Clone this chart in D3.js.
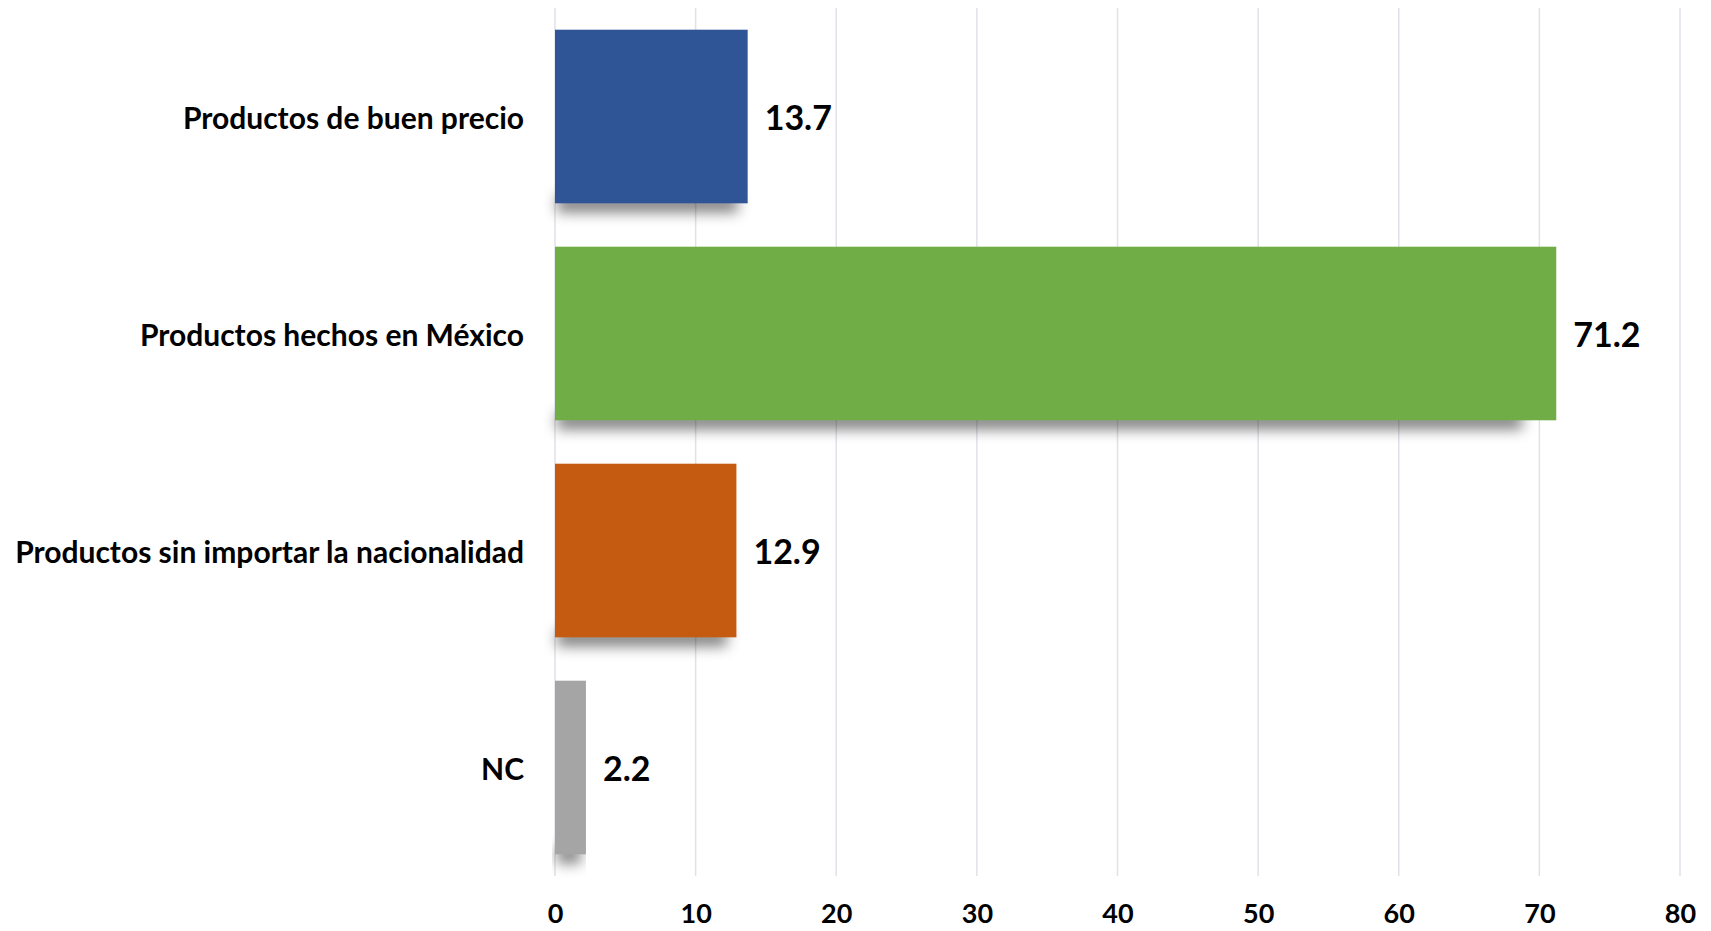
<!DOCTYPE html>
<head>
<meta charset="utf-8">
<style type="text/css">
	body { margin: 0; background: #fff; }
	text { font-family: Lato, "Open Sans", sans-serif; font-weight: bold; fill: #000; }
	.grid line { stroke: #dfe2e8; stroke-width: 1.5; }
</style>
</head>
<script src="https://d3js.org/d3.v7.min.js"></script>
<body>
	<svg width="1711" height="931"></svg>
	<script>
	var categories = ["Productos de buen precio", "Productos hechos en México", "Productos sin importar la nacionalidad", "NC"];
	var values = [13.7, 71.2, 12.9, 2.2];
	var colors = ["#2f5597", "#70ad47", "#c55a11", "#a5a5a5"];
	var ticks = [0, 10, 20, 30, 40, 50, 60, 70, 80];

	var svg = d3.select("svg");

	var x = d3.scaleLinear()
		.domain([0, 80])
		.range([555, 1680]);

	var y = d3.scaleBand()
		.domain(categories)
		.range([8, 876])
		.paddingInner(0.2)
		.paddingOuter(0.1);

	var defs = svg.append("defs");
	defs.append("filter")
		.attr("id", "blur")
		.attr("x", "-20%").attr("y", "-100%")
		.attr("width", "140%").attr("height", "300%")
		.append("feGaussianBlur")
		.attr("stdDeviation", 7);

	// gridlines
	svg.append("g")
		.attr("class", "grid")
		.selectAll("line")
		.data(ticks)
		.enter().append("line")
		.attr("x1", function(d) { return x(d); })
		.attr("x2", function(d) { return x(d); })
		.attr("y1", 8)
		.attr("y2", 876);

	var rows = categories.map(function(c, i) { return {cat: c, val: values[i], color: colors[i]}; });

	// shadows under the bars
	svg.append("g")
		.selectAll("rect")
		.data(rows)
		.enter().append("rect")
		.attr("x", x(0) + 2)
		.attr("y", function(d) { return y(d.cat) + y.bandwidth() - 8; })
		.attr("width", function(d) { return Math.max(4, (x(d.val) - x(0)) * 0.97 - 6); })
		.attr("height", 17)
		.attr("fill", "#000")
		.attr("opacity", 0.5)
		.attr("filter", "url(#blur)");

	svg.append("g")
		.selectAll("rect")
		.data(rows)
		.enter().append("rect")
		.attr("x", x(0))
		.attr("y", function(d) { return y(d.cat); })
		.attr("width", function(d) { return x(d.val) - x(0); })
		.attr("height", y.bandwidth())
		.attr("fill", function(d) { return d.color; });

	// value labels
	svg.append("g")
		.selectAll("text")
		.data(rows)
		.enter().append("text")
		.attr("x", function(d) { return x(d.val) + 17; })
		.attr("y", function(d) { return y(d.cat) + y.bandwidth() / 2; })
		.attr("dominant-baseline", "central")
		.style("font-size", "34px")
		.text(function(d) { return d.val.toFixed(1); });

	// category axis
	var yAxis = svg.append("g")
		.attr("transform", "translate(" + x(0) + ",0)")
		.call(d3.axisLeft(y).tickSize(0).tickPadding(31));
	yAxis.select(".domain").remove();
	yAxis.selectAll("text")
		.attr("dy", null)
		.attr("dominant-baseline", "central")
		.style("font-size", "30px");

	// value axis
	var xAxis = svg.append("g")
		.attr("transform", "translate(0,876)")
		.call(d3.axisBottom(x).tickValues(ticks).tickSize(0).tickPadding(36));
	xAxis.select(".domain").remove();
	xAxis.selectAll("text")
		.attr("dy", null)
		.attr("dominant-baseline", "central")
		.style("font-size", "27px");
	</script>
</body>
